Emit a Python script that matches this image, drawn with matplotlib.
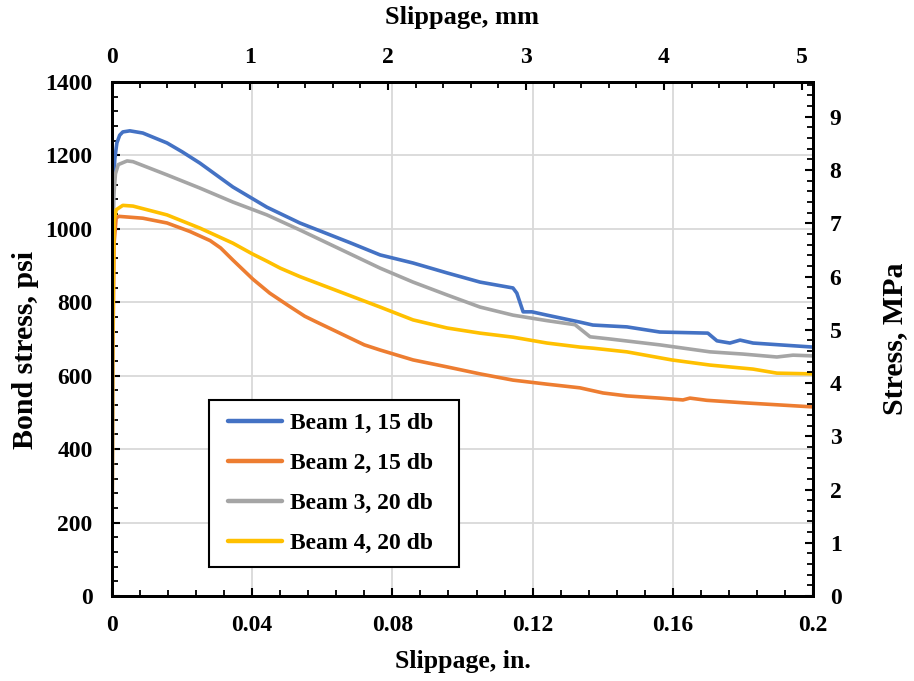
import matplotlib
matplotlib.use("Agg")
import matplotlib.pyplot as plt
from matplotlib.ticker import MultipleLocator
from matplotlib.patches import Rectangle

plt.rcParams['font.family'] = ['Liberation Serif', 'DejaVu Serif']
plt.rcParams['font.weight'] = 'bold'

# Bond stress (psi) versus slippage (in.)
beam1_x = [0, 0.0002, 0.0004, 0.0008, 0.0014, 0.0022, 0.0031, 0.0051, 0.0088, 0.0157,
           0.020, 0.0251, 0.0345, 0.0442, 0.0536, 0.060, 0.068, 0.0765, 0.0859, 0.0956,
           0.105, 0.1144, 0.1155, 0.1173, 0.1198, 0.1241, 0.1335, 0.1372, 0.1469, 0.1563,
           0.170, 0.1726, 0.1763, 0.1792, 0.1829, 0.1906, 0.2]
beam1_y = [0, 870, 1100, 1190, 1234, 1255, 1264, 1267, 1261, 1234,
           1210, 1179, 1114, 1059, 1016, 992, 962, 929, 907, 880,
           855, 839, 825, 774, 774, 765, 746, 738, 733, 719,
           716, 695, 689, 697, 689, 684, 678]

beam2_x = [0, 0.0002, 0.0006, 0.0012, 0.002, 0.0088, 0.0157, 0.0222, 0.028, 0.031,
           0.0345, 0.0402, 0.045, 0.05, 0.055, 0.058, 0.065, 0.072, 0.0765, 0.0859,
           0.0956, 0.105, 0.1144, 0.1241, 0.1335, 0.1401, 0.1469, 0.1563, 0.1629, 0.1649,
           0.1697, 0.1806, 0.2]
beam2_y = [0, 600, 960, 1030, 1034, 1029, 1016, 993, 968, 948,
           915, 863, 825, 793, 762, 748, 716, 684, 670, 643,
           624, 605, 588, 577, 567, 553, 545, 539, 534, 539,
           533, 526, 515]

beam3_x = [0, 0.0002, 0.0005, 0.001, 0.0018, 0.0043, 0.006, 0.0157, 0.0251, 0.0345,
           0.0442, 0.0536, 0.0765, 0.0859, 0.0956, 0.105, 0.1144, 0.1241, 0.1321, 0.1364,
           0.1421, 0.1563, 0.1706, 0.180, 0.1897, 0.1943, 0.2]
beam3_y = [0, 800, 1087, 1150, 1175, 1185, 1183, 1147, 1111, 1073,
           1038, 997, 893, 855, 820, 787, 765, 750, 739, 706,
           700, 684, 665, 659, 651, 656, 654]

beam4_x = [0, 0.0002, 0.0006, 0.0012, 0.0031, 0.006, 0.0157, 0.0251, 0.0345, 0.040,
           0.0442, 0.048, 0.0536, 0.0765, 0.0859, 0.0956, 0.105, 0.1144, 0.1241, 0.1335,
           0.1372, 0.1469, 0.1597, 0.1706, 0.1829, 0.1897, 0.2]
beam4_y = [0, 700, 1020, 1052, 1064, 1062, 1038, 1002, 961, 932,
           912, 893, 870, 787, 752, 730, 716, 705, 689, 678,
           675, 665, 643, 629, 618, 607, 605]

series_labels = ["Beam 1, 15 db", "Beam 2, 15 db", "Beam 3, 20 db", "Beam 4, 20 db"]
series_colors = ["#4472C4", "#ED7D31", "#A5A5A5", "#FFC000"]

x_ticks = [0, 0.04, 0.08, 0.12, 0.16, 0.2]
x_ticklabels = ["0", "0.04", "0.08", "0.12", "0.16", "0.2"]
y_ticks = [0, 200, 400, 600, 800, 1000, 1200, 1400]
mm_ticks = [0, 1, 2, 3, 4, 5]
mpa_ticks = [0, 1, 2, 3, 4, 5, 6, 7, 8, 9]

IN_TO_MM = 25.4
PSI_TO_MPA = 0.00689476
X_MAX = 0.2
Y_MAX = 1400

fig = plt.figure(figsize=(9.14, 6.81), dpi=100)
ax = fig.add_axes([0.1225, 0.1248, 0.767, 0.7548])

xs = [beam1_x, beam2_x, beam3_x, beam4_x]
ys = [beam1_y, beam2_y, beam3_y, beam4_y]
for x, y, lab, col in zip(xs, ys, series_labels, series_colors):
    ax.plot(x, y, color=col, lw=2.6, label=lab, solid_capstyle='round',
            solid_joinstyle='round', zorder=3)

ax.set_xlim(0, X_MAX)
ax.set_ylim(0, Y_MAX)
ax.set_xticks(x_ticks)
ax.set_xticklabels(x_ticklabels)
ax.set_yticks(y_ticks)
ax.xaxis.set_minor_locator(MultipleLocator(0.008))
ax.yaxis.set_minor_locator(MultipleLocator(40))
ax.grid(True, which='major', color='#D9D9D9', lw=1.3, zorder=0)
ax.set_axisbelow(True)

tick_font = 17
ax.tick_params(axis='y', which='major', pad=14)
ax.tick_params(axis='x', which='major', pad=14)
ax.tick_params(which='major', direction='in', length=6, width=1.5, labelsize=tick_font)
ax.tick_params(which='minor', direction='in', length=4, width=1.3)
for sp in ax.spines.values():
    sp.set_linewidth(2)

ax.set_xlabel("Slippage, in.", fontsize=18.5, fontweight='bold')
ax.set_ylabel("Bond stress, psi", fontsize=21.5, fontweight='bold')

# Secondary axes in SI units
axr = ax.twinx()
axr.set_ylim(0, Y_MAX * PSI_TO_MPA)
axr.set_yticks(mpa_ticks)
axr.yaxis.set_minor_locator(MultipleLocator(0.2))
axr.tick_params(which='major', direction='in', length=6, width=1.5, labelsize=tick_font, pad=12)
axr.tick_params(which='minor', direction='in', length=4, width=1.3)
axr.set_ylabel("Stress, MPa", fontsize=21.5, fontweight='bold')

axt = ax.twiny()
axt.set_xlim(0, X_MAX * IN_TO_MM)
axt.set_xticks(mm_ticks)
axt.xaxis.set_minor_locator(MultipleLocator(0.2))
axt.tick_params(which='major', direction='in', length=6, width=1.5, labelsize=tick_font, pad=10)
axt.tick_params(which='minor', direction='in', length=4, width=1.3)
axt.set_xlabel("Slippage, mm", fontsize=19, fontweight='bold')
for a in (axr, axt):
    for sp in a.spines.values():
        sp.set_linewidth(2)

# Axis title placement
ax.xaxis.set_label_coords(0.5, -0.127)
ax.xaxis.label.set_va('center')
axt.xaxis.set_label_coords(0.5, 1.1245)
axt.xaxis.label.set_va('center')
ax.yaxis.set_label_coords(-0.124, 0.478)
ax.yaxis.label.set_va('center')
axr.yaxis.set_label_coords(1.117, 0.5)
axr.yaxis.label.set_va('center')

# Legend with a plain rectangular box
box_x0, box_x1 = 0.1384, 0.495
box_y0, box_y1 = 0.0564, 0.3813
box = Rectangle((box_x0, box_y0), box_x1 - box_x0, box_y1 - box_y0,
                transform=ax.transAxes, facecolor='white', edgecolor='black',
                lw=1.5, zorder=4)
ax.add_patch(box)
leg = ax.legend(loc='center', bbox_to_anchor=((box_x0 + box_x1) / 2 - 0.005, (box_y0 + box_y1) / 2),
                borderaxespad=0, borderpad=0, fontsize=17, frameon=False,
                handlelength=2.3, handletextpad=0.3, labelspacing=0.78)
for line in leg.get_lines():
    line.set_linewidth(3.2)
leg.set_zorder(5)

fig.savefig("out.png", dpi=100)
